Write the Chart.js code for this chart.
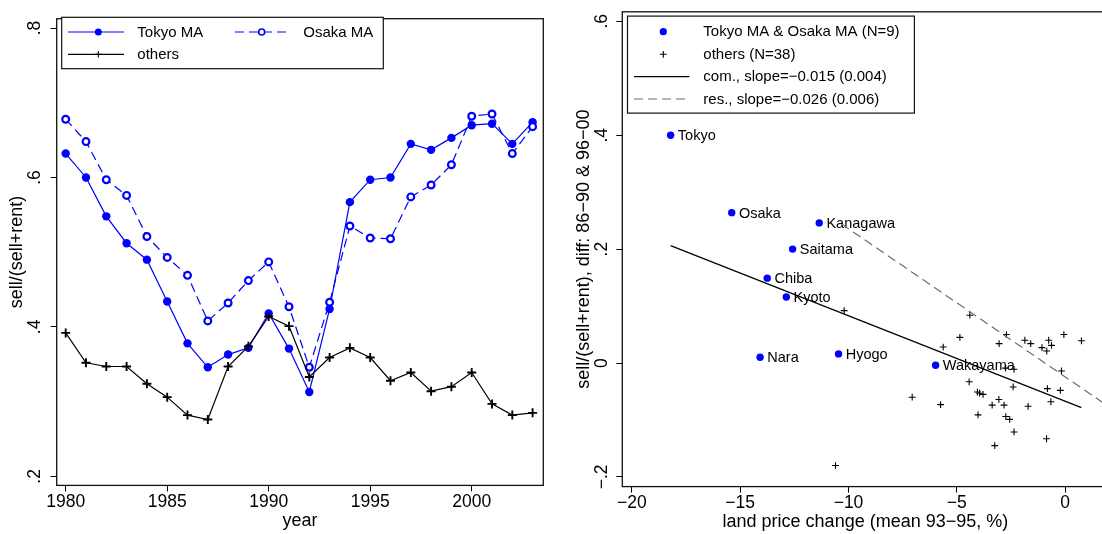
<!DOCTYPE html>
<html>
<head>
<meta charset="utf-8">
<script src="https://cdn.jsdelivr.net/npm/chart.js@4.4.1/dist/chart.umd.min.js"></script>
<style>
  html, body { margin: 0; padding: 0; background: #fff; overflow: hidden; width: 1102px; height: 534px; }
  #wrap { position: relative; width: 1102px; height: 534px; overflow: hidden; background: #fff; }
  #left { position: absolute; left: 0; top: 0; }
  #right { position: absolute; left: 560px; top: 0; }
</style>
</head>
<body>
<div id="wrap">
  <canvas id="left" width="560" height="534"></canvas>
  <canvas id="right" width="600" height="534"></canvas>
</div>
<script>
// ---- time series: share of "sell" in sell+rent, by year ----
const years = [1980,1981,1982,1983,1984,1985,1986,1987,1988,1989,1990,1991,
               1992,1993,1994,1995,1996,1997,1998,1999,2000,2001,2002,2003];
const tokyoMA = [0.632,0.600,0.548,0.512,0.490,0.434,0.378,0.346,0.363,0.372,0.418,0.371,
                 0.313,0.424,0.567,0.597,0.600,0.645,0.637,0.653,0.670,0.672,0.645,0.674];
const osakaMA = [0.678,0.648,0.597,0.576,0.521,0.493,0.469,0.408,0.432,0.462,0.487,0.427,
                 0.346,0.433,0.535,0.519,0.518,0.574,0.590,0.617,0.682,0.685,0.632,0.668];
const othersSeries = [0.392,0.352,0.347,0.347,0.324,0.306,0.282,0.276,0.347,0.374,0.414,0.401,
                      0.333,0.359,0.372,0.359,0.328,0.339,0.314,0.320,0.339,0.297,0.282,0.285];
const leftXTicks = [1980,1985,1990,1995,2000];
const leftYTicks = [0.2,0.4,0.6,0.8];

// ---- cross section: land price change vs. change in sell share ----
const prefNames = ['Tokyo','Osaka','Kanagawa','Saitama','Chiba','Kyoto','Nara','Hyogo','Wakayama'];
const prefLandChange = [-18.21,-15.39,-11.35,-12.58,-13.75,-12.87,-14.08,-10.46,-5.98];
const prefSellDiff   = [0.400,0.264,0.246,0.200,0.149,0.116,0.010,0.016,-0.004];
const otherLandChange = [-4.40,-4.86,-5.63,-4.43,-4.05,-3.79,-7.06,-5.75,-4.02,
                         -2.71,-3.05,-1.86,-1.59,-0.76,-0.63,-1.07,-0.85,-0.06,0.75,
                         -2.75,-2.36,-2.40,-0.17,-0.82,-0.22,-0.66,-3.06,-3.37,-2.82,
                         -1.71,-2.74,-2.56,-2.36,-3.25,-0.86,-10.20,-10.60,-3.95];
const otherSellDiff   = [0.084,0.045,0.028,-0.033,-0.051,-0.055,-0.060,-0.073,-0.091,
                         0.050,0.034,0.040,0.034,0.040,0.031,0.027,0.021,0.050,0.039,
                         -0.009,-0.011,-0.042,-0.014,-0.045,-0.048,-0.068,-0.064,-0.074,-0.074,
                         -0.076,-0.094,-0.099,-0.121,-0.145,-0.133,0.092,-0.180,-0.053];
const comSlope = -0.015, comIntercept = -0.067, comRange = [-18.21, 0.75];
const resSlope = -0.026, resIntercept = -0.0243, resRange = [-10.32, 2.0];
const rightXTicks = [-20,-15,-10,-5,0];
const rightYTicks = [-0.2,0,0.2,0.4,0.6];

const BLUE = 'rgb(0,0,255)';
const INK = '#000';
const FONT = "'Liberation Sans', Arial, 'DejaVu Sans', sans-serif";
Chart.defaults.font.family = FONT;
Chart.defaults.color = INK;

function fmtFrac(v) {
  if (Math.abs(v) < 1e-9) return '0';
  const s = Math.abs(v).toFixed(1).replace(/^0/, '');
  return (v < 0 ? '\u2212' : '') + s;
}
function fmtInt(v) { return (v < 0 ? '\u2212' : '') + Math.abs(v); }
function fixedTicks(values) {
  return function (scale) { scale.ticks = values.map(v => ({ value: v })); };
}
function fitLine(slope, intercept, range) {
  return range.map(x => ({ x: x, y: intercept + slope * x }));
}

const tickGrid = { display: true, drawOnChartArea: false, drawTicks: true, tickLength: 6, color: INK, lineWidth: 1 };

// box around the plot region
const framePlugin = {
  id: 'frame',
  afterDraw(chart) {
    const { ctx, chartArea: a } = chart;
    ctx.save();
    ctx.strokeStyle = '#111';
    ctx.lineWidth = 1.3;
    ctx.strokeRect(a.left, a.top, a.right - a.left, a.bottom - a.top);
    ctx.restore();
  }
};

function legendText(ctx, text, x, y) {
  ctx.fillStyle = INK;
  ctx.font = '15px ' + FONT;
  ctx.textAlign = 'left';
  ctx.textBaseline = 'middle';
  ctx.fillText(text, x, y);
}
function sampleLine(ctx, x0, x1, y, color, dash) {
  ctx.save();
  ctx.strokeStyle = color;
  ctx.lineWidth = 1.2;
  ctx.setLineDash(dash || []);
  ctx.beginPath(); ctx.moveTo(x0, y); ctx.lineTo(x1, y); ctx.stroke();
  ctx.restore();
}
function sampleMarker(ctx, style, r, bw, fill, stroke, x, y) {
  ctx.save();
  ctx.fillStyle = fill; ctx.strokeStyle = stroke; ctx.lineWidth = bw;
  Chart.helpers.drawPoint(ctx, { pointStyle: style, radius: r, borderWidth: bw, rotation: 0 }, x, y);
  ctx.restore();
}

// key for the time-series panel
const leftLegend = {
  id: 'leftLegend',
  afterDraw(chart) {
    const ctx = chart.ctx;
    const ds = chart.data.datasets;
    ctx.save();
    ctx.fillStyle = '#fff';
    ctx.fillRect(61.7, 17.3, 321.6, 51.4);
    ctx.strokeStyle = '#111'; ctx.lineWidth = 1.2;
    ctx.strokeRect(61.7, 17.3, 321.6, 51.4);
    sampleLine(ctx, 68, 124, 32, BLUE);
    sampleMarker(ctx, 'circle', 3.5, 0, BLUE, BLUE, 98.3, 32);
    legendText(ctx, ds[0].label, 137.3, 32.5);
    sampleLine(ctx, 235, 291, 32, BLUE, [9, 5]);
    sampleMarker(ctx, 'circle', 3, 1.6, '#fff', BLUE, 261.7, 32);
    legendText(ctx, ds[1].label, 303.3, 32.5);
    sampleLine(ctx, 68, 124, 54.3, INK);
    sampleMarker(ctx, 'cross', 3.2, 1.1, INK, INK, 98.3, 54.3);
    legendText(ctx, ds[2].label, 137.3, 54.8);
    ctx.restore();
  }
};

// key for the cross-section panel
const rightLegend = {
  id: 'rightLegend',
  afterDraw(chart) {
    const ctx = chart.ctx;
    const ds = chart.data.datasets;
    ctx.save();
    ctx.fillStyle = '#fff';
    ctx.fillRect(67.5, 16.1, 286.9, 97);
    ctx.strokeStyle = '#111'; ctx.lineWidth = 1.2;
    ctx.strokeRect(67.5, 16.1, 286.9, 97);
    sampleMarker(ctx, 'circle', 3.6, 0, BLUE, BLUE, 103.3, 31.7);
    legendText(ctx, ds[0].label, 143.3, 32.2);
    sampleMarker(ctx, 'cross', 3.4, 1.1, INK, INK, 103.3, 54.3);
    legendText(ctx, ds[1].label, 143.3, 54.8);
    sampleLine(ctx, 74, 129.3, 76.7, INK);
    legendText(ctx, ds[2].label, 143.3, 77.2);
    sampleLine(ctx, 74, 129.3, 99, '#6e6e6e', [9, 5]);
    legendText(ctx, ds[3].label, 143.3, 99.5);
    ctx.restore();
  }
};

// names next to the prefecture markers
const prefLabels = {
  id: 'prefLabels',
  afterDatasetDraw(chart, args) {
    if (args.index !== 0) return;
    const ctx = chart.ctx;
    const pts = chart.getDatasetMeta(0).data;
    ctx.save();
    ctx.fillStyle = INK;
    ctx.font = '14.5px ' + FONT;
    ctx.textAlign = 'left';
    ctx.textBaseline = 'middle';
    pts.forEach((p, i) => ctx.fillText(prefNames[i], p.x + 7.2, p.y + 1));
    ctx.restore();
  }
};

new Chart(document.getElementById('left'), {
  type: 'line',
  data: {
    datasets: [
      { label: 'Tokyo MA', data: years.map((y, i) => ({ x: y, y: tokyoMA[i] })),
        borderColor: BLUE, borderWidth: 1.2, pointStyle: 'circle', pointRadius: 4.2,
        pointBackgroundColor: BLUE, pointBorderColor: BLUE, pointBorderWidth: 0, order: 2 },
      { label: 'Osaka MA', data: years.map((y, i) => ({ x: y, y: osakaMA[i] })),
        borderColor: BLUE, borderWidth: 1.2, borderDash: [9, 5], pointStyle: 'circle', pointRadius: 3.4,
        pointBackgroundColor: '#fff', pointBorderColor: BLUE, pointBorderWidth: 2.2, order: 1 },
      { label: 'others', data: years.map((y, i) => ({ x: y, y: othersSeries[i] })),
        borderColor: INK, borderWidth: 1.2, pointStyle: 'cross', pointRadius: 4.5,
        pointBorderColor: INK, pointBorderWidth: 1.9, order: 0 }
    ]
  },
  options: {
    responsive: false, animation: false,
    layout: { padding: { left: 0, right: 16.7, top: 12.1, bottom: 0 } },
    plugins: { legend: { display: false }, tooltip: { enabled: false } },
    scales: {
      x: {
        type: 'linear', min: 1979.557, max: 2003.527,
        afterBuildTicks: fixedTicks(leftXTicks),
        afterFit(s) { s.height = 48.6; },
        grid: tickGrid, border: { display: false },
        ticks: { callback: v => String(v), padding: 0, maxRotation: 0, autoSkip: false, font: { size: 17.5 }, color: INK },
        title: { display: true, text: 'year', font: { size: 18 }, color: INK, padding: { top: 0, bottom: 2 } }
      },
      y: {
        type: 'linear', min: 0.1879, max: 0.8125,
        afterBuildTicks: fixedTicks(leftYTicks),
        afterFit(s) { s.width = 56.7; },
        grid: tickGrid, border: { display: false },
        ticks: { callback: fmtFrac, minRotation: 90, maxRotation: 90, crossAlign: 'center', padding: 8.2, autoSkip: false, font: { size: 17.5 }, color: INK },
        title: { display: true, text: 'sell/(sell+rent)', font: { size: 18 }, color: INK, padding: { top: 6.5, bottom: 0 } }
      }
    }
  },
  plugins: [framePlugin, leftLegend]
});

new Chart(document.getElementById('right'), {
  type: 'scatter',
  data: {
    datasets: [
      { label: 'Tokyo MA & Osaka MA (N=9)', data: prefLandChange.map((x, i) => ({ x: x, y: prefSellDiff[i] })),
        pointStyle: 'circle', pointRadius: 3.7, pointBackgroundColor: BLUE, pointBorderColor: BLUE, pointBorderWidth: 0, order: 3 },
      { label: 'others (N=38)', data: otherLandChange.map((x, i) => ({ x: x, y: otherSellDiff[i] })),
        pointStyle: 'cross', pointRadius: 3.4, pointBorderColor: INK, pointBorderWidth: 1.1, order: 2 },
      { label: 'com., slope=\u22120.015 (0.004)', data: fitLine(comSlope, comIntercept, comRange),
        showLine: true, borderColor: INK, borderWidth: 1.2, pointRadius: 0, order: 1 },
      { label: 'res., slope=\u22120.026 (0.006)', data: fitLine(resSlope, resIntercept, resRange),
        showLine: true, borderColor: '#6e6e6e', borderWidth: 1.2, borderDash: [9, 5], pointRadius: 0, order: 0 }
    ]
  },
  options: {
    responsive: false, animation: false,
    layout: { padding: { left: 0, right: 51.5, top: 11.3, bottom: 0 } },
    plugins: { legend: { display: false }, tooltip: { enabled: false } },
    scales: {
      x: {
        type: 'linear', min: -20.44, max: 2.0,
        afterBuildTicks: fixedTicks(rightXTicks),
        afterFit(s) { s.height = 47.4; },
        grid: tickGrid, border: { display: false },
        ticks: { callback: fmtInt, padding: 0, maxRotation: 0, autoSkip: false, font: { size: 17.5 }, color: INK },
        title: { display: true, text: 'land price change (mean 93\u221295, %)', font: { size: 18 }, color: INK, padding: { top: 0, bottom: 1.5 } }
      },
      y: {
        type: 'linear', min: -0.217, max: 0.6167,
        afterBuildTicks: fixedTicks(rightYTicks),
        afterFit(s) { s.width = 62.3; },
        grid: tickGrid, border: { display: false },
        ticks: { callback: fmtFrac, minRotation: 90, maxRotation: 90, crossAlign: 'center', padding: 1.3, autoSkip: false, font: { size: 17.5 }, color: INK },
        title: { display: true, text: 'sell/(sell+rent), diff: 86\u221290 & 96\u221200', font: { size: 18 }, color: INK, padding: { top: 13.4, bottom: 0 } }
      }
    }
  },
  plugins: [framePlugin, rightLegend, prefLabels]
});
</script>
</body>
</html>
